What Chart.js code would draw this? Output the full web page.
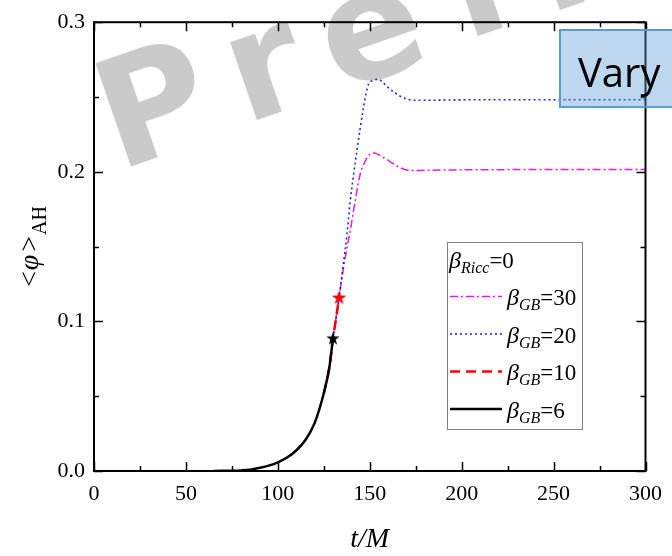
<!DOCTYPE html>
<html><head><meta charset="utf-8">
<script src="https://cdn.jsdelivr.net/npm/chart.js@4"></script>
<style>html,body{margin:0;padding:0;background:#fff;}#wrap{width:672px;height:556px;}</style>
</head><body><div id="wrap"><canvas id="c" width="672" height="556"></canvas></div>
<script>
// ---- data ----
const t6   = [65, 70, 75, 80, 85, 90, 95, 100, 105, 110, 115, 120, 125, 128, 130];
const phi6 = [0, 0.0001, 0.0002, 0.0004, 0.0009, 0.0021, 0.0036, 0.0058, 0.009, 0.0137, 0.0207, 0.032, 0.052, 0.069, 0.0887];

const t10   = [125, 128, 130, 131.7, 133.3];
const phi10 = [0.052, 0.069, 0.0887, 0.102, 0.116];

const t20   = [130, 133.3, 135.5, 137.6, 139.4, 141.2, 143, 144.8, 146.6, 148, 149.3, 152, 154.7, 157, 159.1, 161.3, 163.6, 166, 168.1, 171, 175.3, 180, 200, 250, 300];
const phi20 = [0.0887, 0.116, 0.137, 0.158, 0.1807, 0.198, 0.214, 0.229, 0.243, 0.2525, 0.2584, 0.2611, 0.2618, 0.26, 0.2573, 0.255, 0.2529, 0.251, 0.2495, 0.2484, 0.2478, 0.2478, 0.2481, 0.2482, 0.2482];

const t30   = [130, 133.3, 135.5, 137.6, 139.4, 142.1, 144.8, 147.5, 150.2, 152, 154, 156, 159.1, 162, 166.3, 170, 175.3, 180, 200, 250, 300];
const phi30 = [0.0887, 0.116, 0.134, 0.149, 0.1607, 0.1807, 0.1984, 0.207, 0.2118, 0.2125, 0.212, 0.2105, 0.2084, 0.206, 0.2029, 0.2012, 0.2008, 0.201, 0.2013, 0.2015, 0.2015];

const starT   = [130, 133.3];
const starPhi = [0.0887, 0.116];

const betaGB = [30, 20, 10, 6];
const betaRicc = 0;

const xMajor = [0, 50, 100, 150, 200, 250, 300];
const xMinor = [25, 75, 125, 175, 225, 275];
const xLabels = ['0', '50', '100', '150', '200', '250', '300'];
const yMajor = [0, 0.1, 0.2, 0.3];
const yMinor = [0.05, 0.15, 0.25];
const yLabels = ['0.0', '0.1', '0.2', '0.3'];

// ---- helpers ----
const pts = (xs, ys) => xs.map((x, i) => ({x: x, y: ys[i]}));
const SERIF = "'Liberation Serif', 'Times New Roman', serif";

function makeStar(color, size) {
  const c = document.createElement('canvas');
  c.width = size; c.height = size;
  const g = c.getContext('2d');
  g.fillStyle = color;
  g.beginPath();
  for (let i = 0; i < 10; i++) {
    const r = (i % 2) ? size * 0.2 : size * 0.5;
    const a = -Math.PI / 2 + i * Math.PI / 5;
    const px = size / 2 + r * Math.cos(a), py = size / 2 + 0.5 + r * Math.sin(a);
    if (i === 0) g.moveTo(px, py); else g.lineTo(px, py);
  }
  g.closePath(); g.fill();
  return c;
}

const styles = {
  30: {color: '#e619e6', width: 1.5, dash: [8, 3, 2, 3]},
  20: {color: '#2424c8', width: 1.6, dash: [2, 3]},
  10: {color: '#ff0000', width: 2.5, dash: [10, 6]},
  6:  {color: '#000000', width: 2.5, dash: []}
};

function lineDs(beta, xs, ys) {
  const s = styles[beta];
  return {
    label: 'GB' + beta, data: pts(xs, ys), showLine: true,
    borderColor: s.color, borderWidth: s.width, borderDash: s.dash,
    pointRadius: 0, cubicInterpolationMode: 'monotone', fill: false
  };
}

function runs(ctx, x, y, list) {
  for (const r of list) {
    ctx.font = (r.italic ? 'italic ' : '') + r.size + 'px ' + SERIF;
    ctx.fillText(r.text, x, y + (r.dy || 0));
    x += ctx.measureText(r.text).width + (r.gap || 0);
  }
  return x;
}
function runsWidth(ctx, list) {
  let w = 0;
  for (const r of list) {
    ctx.font = (r.italic ? 'italic ' : '') + r.size + 'px ' + SERIF;
    w += ctx.measureText(r.text).width + (r.gap || 0);
  }
  return w;
}

const decor = {
  id: 'decor',
  beforeDatasetsDraw(chart) {
    const ctx = chart.ctx;
    ctx.save();
    ctx.fillStyle = 'rgba(150,150,150,0.5)';
    ctx.font = 'bold 150px "DejaVu Sans"';
    ctx.textAlign = 'left'; ctx.textBaseline = 'alphabetic';
    const wm = [['P', 118, 171], ['r', 245, 124], ['e', 338, 92], ['l', 466, 40], ['i', 548, 14]];
    for (const [ch, x, y] of wm) {
      ctx.save(); ctx.translate(x, y); ctx.rotate(-19 * Math.PI / 180);
      ctx.fillText(ch, 0, 0); ctx.restore();
    }
    ctx.restore();
  },
  afterDatasetsDraw(chart) {
    const ctx = chart.ctx, a = chart.chartArea;
    const xs = chart.scales.x, ys = chart.scales.y;
    ctx.save();
    ctx.strokeStyle = '#000'; ctx.lineWidth = 2;
    ctx.strokeRect(a.left, a.top, a.right - a.left, a.bottom - a.top);
    ctx.lineWidth = 1.5;
    ctx.beginPath();
    const tick = (vals, len) => {
      for (const v of vals) {
        const px = Math.round(xs.getPixelForValue(v)) + 0.5;
        ctx.moveTo(px, a.bottom); ctx.lineTo(px, a.bottom - len);
        ctx.moveTo(px, a.top); ctx.lineTo(px, a.top + len);
      }
    };
    const tickY = (vals, len) => {
      for (const v of vals) {
        const py = Math.round(ys.getPixelForValue(v)) + 0.5;
        ctx.moveTo(a.left, py); ctx.lineTo(a.left + len, py);
        ctx.moveTo(a.right, py); ctx.lineTo(a.right - len, py);
      }
    };
    tick(xMajor, 9); tick(xMinor, 5); tickY(yMajor, 9); tickY(yMinor, 5);
    ctx.stroke();

    // legend
    ctx.fillStyle = '#fff';
    ctx.fillRect(447, 242, 135, 187);
    ctx.strokeStyle = '#808080'; ctx.lineWidth = 1;
    ctx.strokeRect(447.5, 242.5, 135, 187);
    ctx.fillStyle = '#000'; ctx.textAlign = 'left'; ctx.textBaseline = 'alphabetic';
    runs(ctx, 449, 268, [
      {text: 'β', italic: true, size: 24},
      {text: 'Ricc', italic: true, size: 16, dy: 5},
      {text: '=' + betaRicc, size: 23}
    ]);
    betaGB.forEach((b, i) => {
      const base = 305 + i * 37.5;
      const s = styles[b];
      ctx.save();
      ctx.strokeStyle = s.color; ctx.lineWidth = s.width; ctx.setLineDash(s.dash);
      ctx.beginPath(); ctx.moveTo(450, base - 8.5); ctx.lineTo(502, base - 8.5); ctx.stroke();
      ctx.restore();
      ctx.fillStyle = '#000';
      runs(ctx, 507, base, [
        {text: 'β', italic: true, size: 24},
        {text: 'GB', italic: true, size: 16, dy: 5},
        {text: '=' + b, size: 23}
      ]);
    });

    // axis titles
    ctx.fillStyle = '#000';
    ctx.font = 'italic 28px ' + SERIF;
    ctx.textAlign = 'center';
    ctx.fillText('t/M', (a.left + a.right) / 2, 547);
    ctx.textAlign = 'left';
    const yt = [
      {text: '<', size: 28, gap: 1},
      {text: 'φ', italic: true, size: 28, gap: 3},
      {text: '>', size: 28, gap: 1},
      {text: 'AH', size: 20, dy: 8}
    ];
    const w = runsWidth(ctx, yt);
    ctx.save();
    ctx.translate(38, 246.5 + w / 2);
    ctx.rotate(-Math.PI / 2);
    runs(ctx, 0, 0, yt);
    ctx.restore();
    ctx.restore();
  },
  afterDraw(chart) {
    const ctx = chart.ctx;
    ctx.save();
    ctx.fillStyle = 'rgba(91,155,213,0.4)';
    ctx.fillRect(559, 29, 120, 78);
    ctx.strokeStyle = '#5b9bd5'; ctx.lineWidth = 2;
    ctx.strokeRect(560, 30, 120, 77);
    ctx.fillStyle = '#000';
    ctx.font = '40px "Open Sans"';
    ctx.textAlign = 'left'; ctx.textBaseline = 'alphabetic';
    ctx.fillText('Vary', 578, 87);
    ctx.restore();
  }
};

const tickFont = {family: SERIF, size: 22};

new Chart(document.getElementById('c'), {
  type: 'scatter',
  data: {
    datasets: [
      {label: 'stars', data: pts(starT, starPhi), showLine: false,
       pointStyle: [makeStar('#000', 14), makeStar('#ff0000', 15)], pointRadius: 7},
      lineDs(6, t6, phi6),
      lineDs(10, t10, phi10),
      lineDs(20, t20, phi20),
      lineDs(30, t30, phi30)
    ]
  },
  options: {
    responsive: false, animation: false, devicePixelRatio: 1,
    layout: {padding: {left: 0, right: 20, top: 21, bottom: 0}},
    plugins: {legend: {display: false}, tooltip: {enabled: false}},
    scales: {
      x: {
        type: 'linear', min: 0, max: 300,
        grid: {display: false, drawTicks: false},
        border: {display: false},
        afterBuildTicks: s => { s.ticks = xMajor.map(v => ({value: v})); },
        afterFit: s => { s.height = 85; },
        ticks: {font: tickFont, color: '#000', padding: 10, maxRotation: 0,
                callback: (v) => xLabels[xMajor.indexOf(v)]}
      },
      y: {
        type: 'linear', min: 0, max: 0.3,
        grid: {display: false, drawTicks: false},
        border: {display: false},
        afterBuildTicks: s => { s.ticks = yMajor.map(v => ({value: v})); },
        afterFit: s => { s.width = 94; },
        ticks: {font: tickFont, color: '#000', padding: 9,
                callback: (v) => yLabels[yMajor.indexOf(v)]}
      }
    }
  },
  plugins: [decor]
});
</script>
</body></html>
